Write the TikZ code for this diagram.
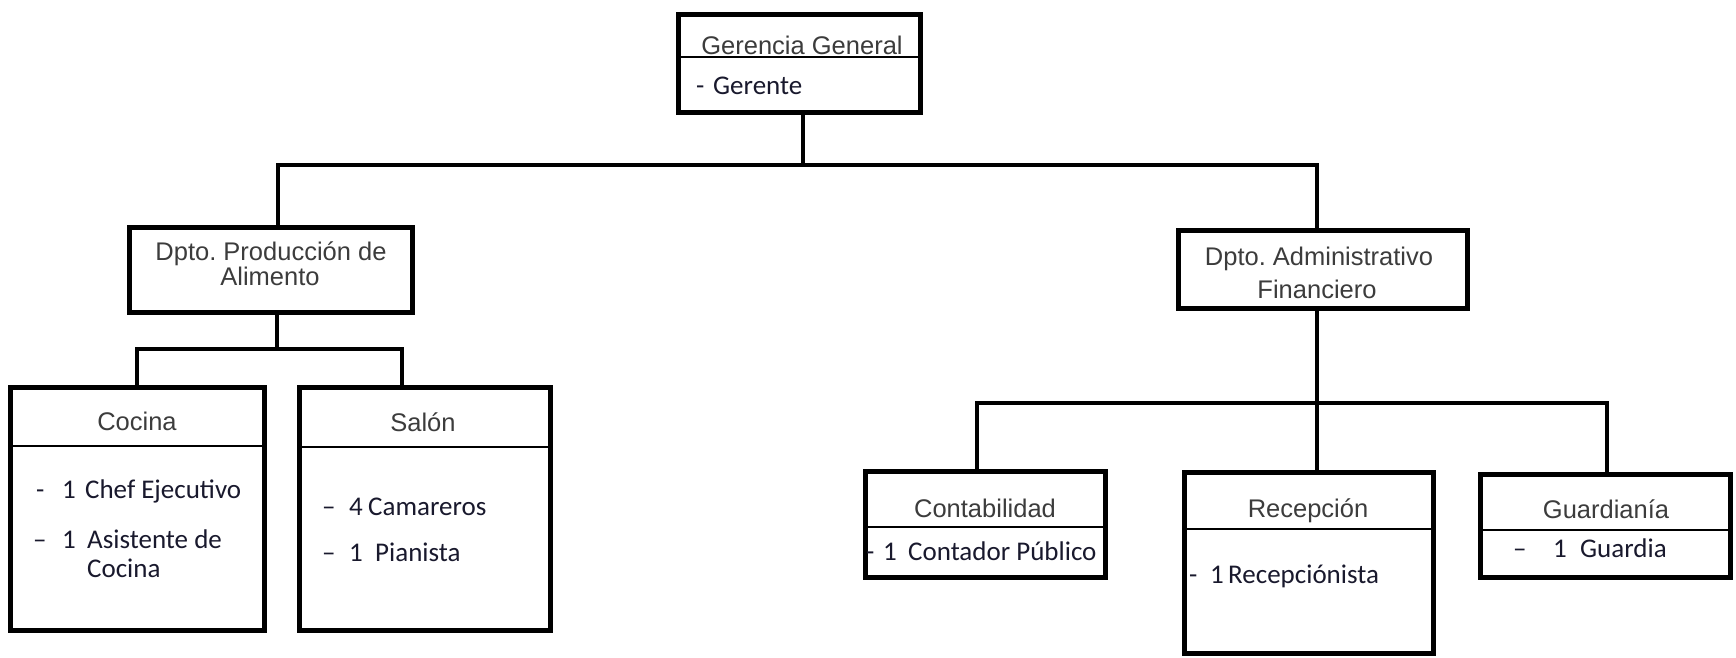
\documentclass[tikz,border=0pt]{standalone}
\usepackage{fontspec}
\setmainfont{Liberation Sans}
\newfontfamily\itemfont{Carlito}
\definecolor{hdrcol}{RGB}{60,60,60}
\definecolor{itemcol}{RGB}{25,25,45}
\frenchspacing
\begin{document}
\begin{tikzpicture}[x=1pt,y=-1pt,
  box/.style={draw=black, line width=5pt, fill=white, inner sep=0pt, rectangle},
  conn/.style={draw=black, line width=4pt},
  divline/.style={draw=black, line width=1.6pt},
  hdr/.style={anchor=base, inner sep=0pt, text=hdrcol, font=\fontsize{25.5}{30}\selectfont},
  itm/.style={anchor=base west, inner sep=0pt, text=itemcol, font=\itemfont\fontsize{27}{32}\selectfont}]
\useasboundingbox (0,0) rectangle (1736,658);

% boxes
\node[box, minimum width=242pt, minimum height=98pt] (ger) at (799.5,63.5) {};
\node[box, minimum width=283pt, minimum height=85pt] (prod) at (271,270) {};
\node[box, minimum width=289pt, minimum height=78pt] (admin) at (1323,269.5) {};
\node[box, minimum width=254pt, minimum height=243pt] (cocina) at (137.5,509) {};
\node[box, minimum width=251pt, minimum height=243pt] (salon) at (425,509) {};
\node[box, minimum width=240pt, minimum height=106pt] (conta) at (985.5,524.5) {};
\node[box, minimum width=249pt, minimum height=181pt] (recep) at (1309,563) {};
\node[box, minimum width=250pt, minimum height=103pt] (guard) at (1605.5,526) {};

% dividers
\draw[divline] (ger.west |- 0,57) -- (ger.east |- 0,57);
\draw[divline] (cocina.west |- 0,446) -- (cocina.east |- 0,446);
\draw[divline] (salon.west |- 0,447) -- (salon.east |- 0,447);
\draw[divline] (conta.west |- 0,527) -- (conta.east |- 0,527);
\draw[divline] (recep.west |- 0,529) -- (recep.east |- 0,529);
\draw[divline] (guard.west |- 0,530) -- (guard.east |- 0,530);

% connectors
\coordinate (b0) at (803,165);
\coordinate (b0L) at (278,165);
\coordinate (b0R) at (1317,165);
\draw[conn] (ger.south -| b0) -- (b0);
\draw[conn] (prod.north -| b0L) -- (b0L) -- (b0R) -- (admin.north -| b0R);

\coordinate (b1) at (277,349);
\coordinate (b1L) at (137,349);
\coordinate (b1R) at (402,349);
\draw[conn] (prod.south -| b1) -- (b1);
\draw[conn] (cocina.north -| b1L) -- (b1L) -- (b1R) -- (salon.north -| b1R);

\coordinate (b2) at (1317,403);
\coordinate (b2L) at (977,403);
\coordinate (b2R) at (1607,403);
\draw[conn] (admin.south -| b2) -- (b2);
\draw[conn] (conta.north -| b2L) -- (b2L) -- (b2R) -- (guard.north -| b2R);
\draw[conn] (b2) -- (recep.north -| b2);

% headers
\node[hdr] (gerT) at (802,55) {Gerencia General};
\node[hdr] (prodT1) at (271,260) {Dpto. Producción de};
\node[hdr] (prodT2) at (270,285) {Alimento};
\node[hdr] (adminT1) at (1319,265) {Dpto. Administrativo};
\node[hdr] (adminT2) at (1317,298) {Financiero};
\node[hdr] (cocinaT) at (137,430) {Cocina};
\node[hdr] (salonT) at (423,431) {Salón};
\node[hdr] (contaT) at (985,517) {Contabilidad};
\node[hdr] (recepT) at (1308,517) {Recepción};
\node[hdr] (guardT) at (1606,518) {Guardianía};

% items
\node[itm] (gerI) at (696,95) {\makebox[17pt][l]{-}Gerente};
\node[itm] (cocI1) at (36,498) {\makebox[26pt][l]{-}\makebox[23pt][l]{1}Chef Ejecutivo};
\node[itm] (cocI2) at (33,548) {\makebox[29pt][l]{–}\makebox[25pt][l]{1}Asistente de};
\node[itm] (cocI3) at (87,577) {Cocina};
\node[itm] (salI1) at (322,515) {\makebox[27pt][l]{–}\makebox[19pt][l]{4}Camareros};
\node[itm] (salI2) at (322,561) {\makebox[27pt][l]{–}\makebox[26pt][l]{1}Pianista};
\node[itm] (contaI) at (866,560) {\makebox[17pt][l]{-}\makebox[25pt][l]{1}Contador Público};
\node[itm] (recepI) at (1189,583) {\makebox[21pt][l]{-}\makebox[18pt][l]{1}Recepciónista};
\node[itm] (guardI) at (1513,557) {\makebox[40pt][l]{–}\makebox[27pt][l]{1}Guardia};
\end{tikzpicture}
\end{document}
